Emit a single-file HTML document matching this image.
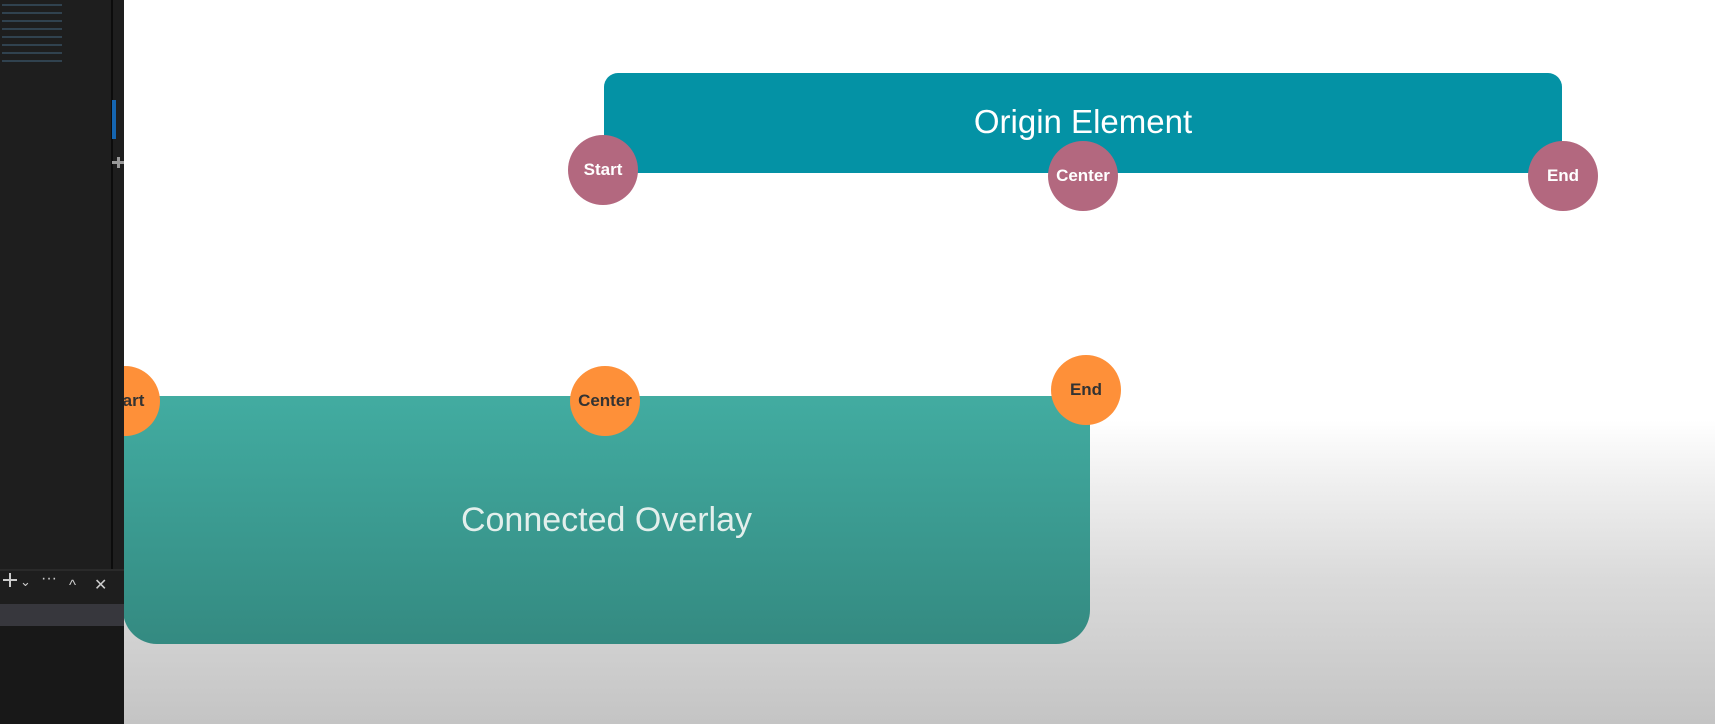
<!DOCTYPE html>
<html><head><meta charset="utf-8"><style>
html,body{margin:0;padding:0}
body{width:1715px;height:724px;overflow:hidden;position:relative;font-family:"Liberation Sans",sans-serif;
background:linear-gradient(to bottom,#fff 0,#fff 420px,#f0f0f0 480px,#dadada 580px,#c4c4c4 724px)}
.abs{position:absolute}
.box1{left:604px;top:73px;width:958px;height:100px;background:#0492a5;border-radius:14px}
.box2{left:123px;top:396px;width:967px;height:248px;border-radius:10px 10px 34px 34px;background:linear-gradient(#42aca1,#348a81)}
.t{color:#fff;font-size:33px;text-align:center}
.c{width:70px;height:70px;border-radius:50%;display:flex;align-items:center;justify-content:center;font-size:17px;font-weight:bold}
.p{background:#b3687f;color:#fff}
.o{background:#fe9039;color:#333}
.panel{left:0;top:0;width:124px;height:724px;background:#1e1e1e}
.ic{position:absolute;top:576px;color:#ccc;font-size:17px;white-space:nowrap}
</style></head><body>
<div class="abs box1"></div>
<div class="abs t" style="left:604px;width:958px;top:103px">Origin Element</div>
<div class="abs c p" style="left:568px;top:135px">Start</div>
<div class="abs c p" style="left:1048px;top:141px">Center</div>
<div class="abs c p" style="left:1528px;top:141px">End</div>
<div class="abs box2"></div>
<div class="abs t" style="left:123px;width:967px;top:501px;color:#e3efec;font-size:34px">Connected Overlay</div>
<div class="abs c o" style="left:570px;top:366px">Center</div>
<div class="abs c o" style="left:1051px;top:355px">End</div>
<div class="abs c o" style="left:90px;top:366px">Start</div>
<div class="abs panel">
  <div class="abs" style="left:111px;top:0;width:2px;height:569px;background:#0c0c0c"></div>
  <div class="abs" style="left:112px;top:100px;width:4px;height:39px;background:#1565b0"></div>
  <div class="abs" style="left:112px;top:161px;width:12px;height:3px;background:#999"></div>
  <div class="abs" style="left:117px;top:157px;width:3px;height:11px;background:#999"></div>
  <div class="abs" style="left:0;top:569px;width:124px;height:2px;background:#2a2a2a"></div>
  <div class="abs" style="left:0;top:604px;width:124px;height:22px;background:#37373d"></div>
  <div class="abs" style="left:0;top:626px;width:124px;height:98px;background:#181818"></div>
  <div class="abs" style="left:3px;top:579px;width:14px;height:1.5px;background:#ccc"></div>
  <div class="abs" style="left:9px;top:573px;width:1.5px;height:14px;background:#ccc"></div>
  <div class="ic" style="left:20px;top:574px;font-size:13px">⌄</div>
  <div class="ic" style="left:41px;top:570px;font-size:16px">···</div>
  <div class="ic" style="left:69px;top:577px;font-size:15px">^</div>
  <div class="ic" style="left:94px;top:575px;font-size:16px">✕</div>
  <div class="abs" style="left:2px;top:4px;width:60px;height:60px;background:repeating-linear-gradient(#3d5a70 0 2px,transparent 2px 8px);opacity:.6"></div>
</div>
</body></html>
